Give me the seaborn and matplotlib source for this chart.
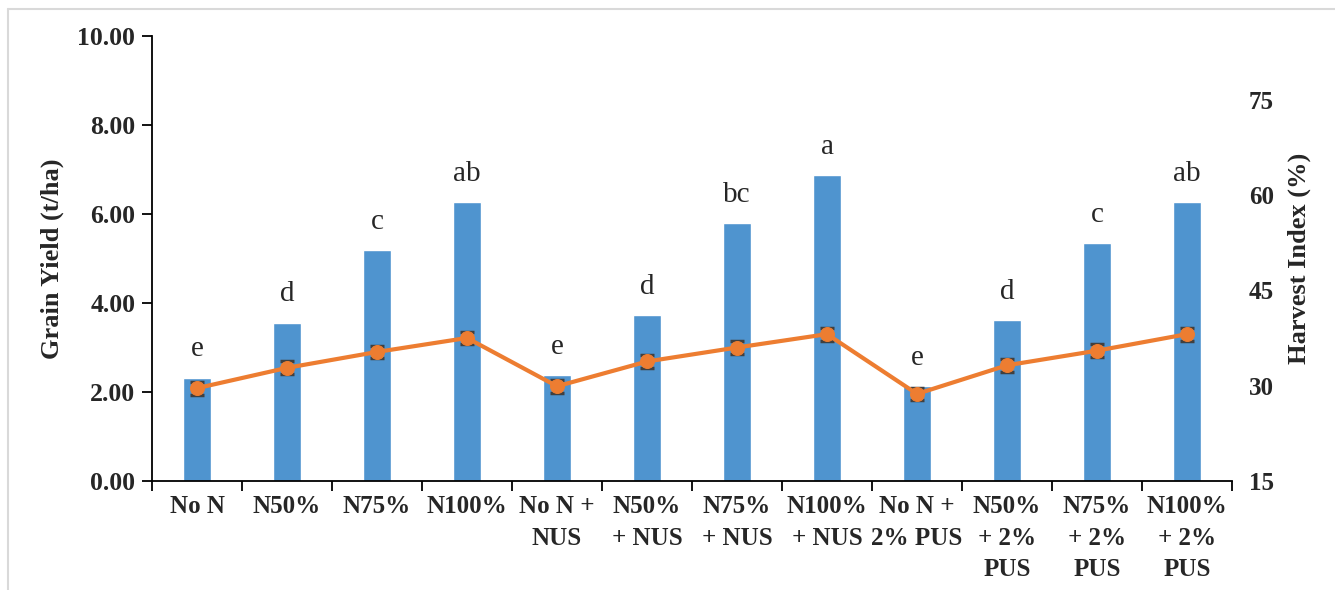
import numpy as np
import pandas as pd
import matplotlib
matplotlib.use("Agg")
import matplotlib.pyplot as plt
import seaborn as sns
from matplotlib.lines import Line2D

# ---- data ----
categories = ["No N", "N50%", "N75%", "N100%", "No N +\nNUS", "N50%\n+ NUS",
              "N75%\n+ NUS", "N100%\n+ NUS", "No N +\n2% PUS", "N50%\n+ 2%\nPUS",
              "N75%\n+ 2%\nPUS", "N100%\n+ 2%\nPUS"]
grain_yield = [2.32, 3.56, 5.19, 6.26, 2.38, 3.72, 5.80, 6.88, 2.13, 3.61, 5.35, 6.26]
letters = ["e", "d", "c", "ab", "e", "d", "bc", "a", "e", "d", "c", "ab"]
harvest_index = [29.6, 32.8, 35.3, 37.5, 29.9, 33.8, 36.0, 38.1, 28.7, 33.2, 35.5, 38.1]
hi_err = [1.0, 1.0, 1.0, 1.0, 1.0, 1.0, 1.0, 1.0, 1.0, 1.0, 1.0, 1.0]
left_ticks = [0, 2, 4, 6, 8, 10]
right_ticks = [15, 30, 45, 60, 75]

sns.set_theme(style="white")
plt.rcParams['font.family'] = ['Liberation Serif', 'DejaVu Serif']

W, H = 1335, 590
fig = plt.figure(figsize=(W / 100, H / 100), dpi=100)
ax = fig.add_axes([152 / W, 1 - 481 / H, (1232 - 152) / W, (481 - 36) / H])

df = pd.DataFrame({"cat": categories, "gy": grain_yield})
x = np.arange(len(categories))
sns.barplot(data=df, x="cat", y="gy", ax=ax, color="#4F94CF", saturation=1,
            width=0.31, order=categories)

ax.set_xlim(-0.5, len(categories) - 0.5)
ax.set_ylim(0, 10)
ax.set_yticks(left_ticks)
ax.set_yticklabels([f"{v:.2f}" for v in left_ticks], fontsize=18.5, fontweight="bold")
ax.set_xticks(np.arange(-0.5, len(categories), 1.0))
ax.set_xticklabels([])
ax.set_xticks(x, minor=True)
ax.set_xticklabels(categories, minor=True, fontsize=18, fontweight="bold",
                   linespacing=1.48, va="top")
ax.tick_params(axis="x", which="major", direction="out", length=7, width=1.3,
               color="black", bottom=True)
ax.tick_params(axis="x", which="minor", length=0, pad=10)
ax.tick_params(axis="y", which="major", direction="out", length=7, width=1.3,
               color="black", left=True, pad=5)
ax.set_xlabel("")
ax.set_ylabel("Grain Yield (t/ha)", fontsize=19, fontweight="bold", labelpad=10)
for s in ["top", "right"]:
    ax.spines[s].set_visible(False)
for s in ["left", "bottom"]:
    ax.spines[s].set_color("black")
    ax.spines[s].set_linewidth(1.3)

for xi, v, lab in zip(x, grain_yield, letters):
    ax.annotate(lab, (xi, v), xytext=(0, 11), textcoords="offset points",
                ha="center", va="bottom", fontsize=21)

ax2 = ax.twinx()
ax2.errorbar(x, harvest_index, yerr=hi_err, fmt="none", ecolor="#404040",
             elinewidth=1.2, capsize=5, capthick=2.5, zorder=3)
sns.lineplot(x=x, y=harvest_index, ax=ax2, color="#ED7D31", linewidth=3,
             marker="o", markersize=10, markeredgecolor="#ED7D31", zorder=4)
ax2.set_ylim(15, 85)
ax2.set_yticks(right_ticks)
ax2.set_yticklabels([str(v) for v in right_ticks], fontsize=18, fontweight="bold")
ax2.tick_params(axis="y", length=0, pad=12)
ax2.set_ylabel("Harvest Index (%)", fontsize=19, fontweight="bold", labelpad=10)
for s in ["top", "right", "left", "bottom"]:
    ax2.spines[s].set_visible(False)
ax2.set_xlim(-0.5, len(categories) - 0.5)

# chart-area border (light grey, top and left)
fig.add_artist(Line2D([8 / W, 8 / W], [0, 1 - 9 / H], transform=fig.transFigure,
                      color="#d9d9d9", linewidth=1.5))
fig.add_artist(Line2D([8 / W, 1], [1 - 9 / H, 1 - 9 / H], transform=fig.transFigure,
                      color="#d9d9d9", linewidth=1.5))

fig.savefig("out.png", dpi=100, facecolor="white")
